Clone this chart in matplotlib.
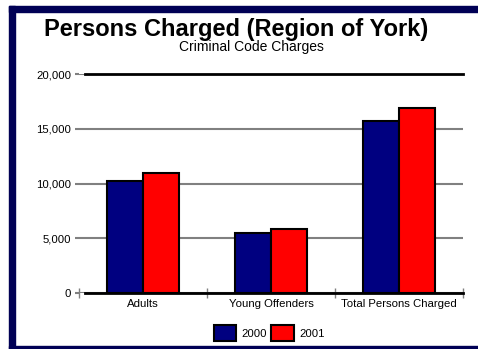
import numpy as np
import matplotlib
matplotlib.use("Agg")
import matplotlib.pyplot as plt
from matplotlib.patches import Rectangle

plt.rcParams['font.family'] = ['Liberation Sans', 'DejaVu Sans']

# data
categories = ["Adults", "Young Offenders", "Total Persons Charged"]
years = ["2000", "2001"]
values_2000 = [10200, 5500, 15700]
values_2001 = [11000, 5870, 16870]
y_ticks = [0, 5000, 10000, 15000, 20000]

navy = "#000080"
red = "#ff0000"
border = "#000055"
W, H = 478, 349

fig = plt.figure(figsize=(W / 100, H / 100), dpi=100)
fig.patch.set_facecolor("white")

# frame around the figure (top, left, bottom; no right side)
for (x0, y0, x1, y1) in [(9, 6, 478, 12), (9, 6, 15, 349), (9, 346, 478, 349)]:
    fig.patches.append(Rectangle((x0 / W, 1 - y1 / H), (x1 - x0) / W, (y1 - y0) / H,
                                 transform=fig.transFigure, color=border, zorder=0))

ax = fig.add_axes([79 / W, 1 - 293 / H, 384 / W, 219 / H])
x = np.arange(len(categories))
bw = 0.28
b1 = ax.bar(x - bw / 2, values_2000, bw, color=navy, edgecolor="black", linewidth=1.5, zorder=3, label=years[0])
b2 = ax.bar(x + bw / 2, values_2001, bw, color=red, edgecolor="black", linewidth=1.5, zorder=3, label=years[1])

ax.set_xlim(-0.5, len(categories) - 0.5)
ax.set_ylim(0, 20000)
ax.set_yticks(y_ticks)
ax.set_yticklabels([f"{v:,}" for v in y_ticks])
ax.yaxis.grid(True, color="#808080", linewidth=1.5, zorder=1)
ax.tick_params(axis="y", length=3, width=1.5, color="#808080", pad=2.5, labelsize=8.2)

ax.set_xticks(x)
ax.set_xticklabels(categories)
ax.tick_params(axis="x", length=0, pad=4, labelsize=8.2)
ax.set_xticks(np.arange(len(categories) + 1) - 0.5, minor=True)
ax.tick_params(axis="x", which="minor", direction="inout", length=7, width=1, color="#808080")

for s in ["left", "right"]:
    ax.spines[s].set_visible(False)
for s in ["top", "bottom"]:
    ax.spines[s].set_color("black")
    ax.spines[s].set_linewidth(2)
    ax.spines[s].set_bounds(-0.5 + 6 / 128, len(categories) - 0.5)
ax.spines["top"].set_zorder(4)

fig.text(236 / W, 1 - 36 / H, "Persons Charged (Region of York)", ha="center", va="baseline",
         fontsize=17, fontweight="bold")
fig.text(251 / W, 1 - 51 / H, "Criminal Code Charges", ha="center", va="baseline", fontsize=10)

fig.legend(handles=[b1, b2], loc="center", bbox_to_anchor=(269 / W, 1 - 333 / H), ncol=2,
           frameon=False, fontsize=8.2, handlelength=2.0, handleheight=1.75,
           handletextpad=0.45, columnspacing=0.35, borderpad=0)

fig.savefig("out.png", dpi=100)
